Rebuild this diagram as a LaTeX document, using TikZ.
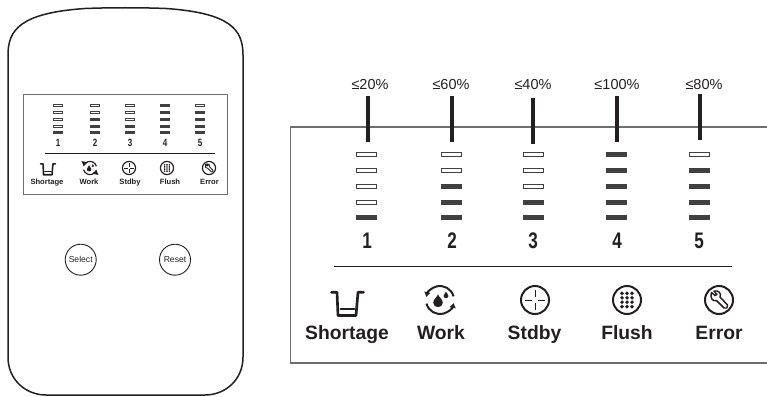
\documentclass[tikz,border=0pt]{standalone}
\usepackage{fontspec}
\setmainfont{Liberation Sans}
\usetikzlibrary{arrows.meta}
\definecolor{ink}{HTML}{231F20}
\definecolor{barfill}{HTML}{404040}
\definecolor{panelline}{HTML}{6E6E6E}
\newcommand{\fsz}[1]{\fontsize{#1}{#1}\selectfont}
\tikzset{
  x=1pt,y=-1pt,
  every node/.style={inner sep=0pt,outer sep=0pt,text=ink},
  ledon/.style={draw=barfill,fill=barfill,line width=.6pt,rectangle},
  ledoff/.style={draw=barfill,fill=white,line width=.6pt,rectangle},
  bigled/.style={minimum width=20pt,minimum height=4pt},
  smallled/.style={minimum width=9.5pt,minimum height=2pt},
  tickmark/.style={draw=ink,line width=4pt},
  pctlabel/.style={font=\fsz{14.5},anchor=base},
  bignum/.style={font=\fsz{22.5}\bfseries,anchor=base,xscale=.76},
  smallnum/.style={font=\fsz{10.5}\bfseries,anchor=base,xscale=.76},
  biglabel/.style={font=\fsz{19.3}\bfseries,anchor=base},
  smalllabel/.style={font=\fsz{7.6}\bfseries,anchor=base},
  btn/.style={circle,draw=ink,line width=.9pt,minimum size=31pt,font=\fsz{8.6}},
  bigicon/.style={scale=1,line width=2pt,draw=ink},
  smallicon/.style={scale=.47,line width=1.2pt,draw=ink},
  bucketicon/.pic={
    \draw[line width=1.15*\pgflinewidth,line cap=round,line join=round] (-16,-7.7) -- (-10.5,-7.7) -- (-9.5,15.5) -- (8.5,15.5) -- (10.5,-7.7) -- (16,-7.7);
    \draw[line cap=round] (-7,9.3) -- (7,9.3);
  },
  workicon/.pic={
    \draw[-{Latex[length=5pt,width=7pt]}] (165:14) arc[start angle=165,end angle=12,radius=14];
    \draw[-{Latex[length=5pt,width=7pt]}] (-15:14) arc[start angle=-15,end angle=-168,radius=14];
    \fill[ink] (-2,-6) .. controls (-2,-3.5) and (2.8,-1) .. (2.8,2.8) .. controls (2.8,8.5) and (-6.8,8.5) .. (-6.8,2.8) .. controls (-6.8,-1) and (-2,-3.5) .. (-2,-6) -- cycle;
    \fill[ink] (6,-8.5) .. controls (6,-7) and (8.4,-6) .. (8.4,-4) .. controls (8.4,-1.2) and (3.6,-1.2) .. (3.6,-4) .. controls (3.6,-6) and (6,-7) .. (6,-8.5) -- cycle;
  },
  stdbyicon/.pic={
    \draw (0,0) circle[radius=14];
    \draw[line width=.45pt] (0,-10) -- (0,-3) (0,3) -- (0,10) (-10,0) -- (-3,0) (3,0) -- (10,0);
  },
  flushicon/.pic={
    \draw (0,0) circle[radius=14];
    \foreach \yy in {-6.6,-2.2,2.2,6.6} \foreach \xx in {-5,0,5} \fill[ink] (\xx,\yy) circle[radius=1.95];
  },
  erroricon/.pic={
    \draw (0,0) circle[radius=14];
    \draw[line width=.85*\pgflinewidth,line join=round] (-7.5,-7.5) -- (-4,-4.5) -- (-2,-5.5) -- (-5,-9) .. controls (0,-10) and (2.5,-6.5) .. (1,-3) -- (8.5,5) .. controls (9.5,7.5) and (7,9.5) .. (5,8) -- (-2.5,0.5) .. controls (-6,2) and (-9.5,-2) .. (-7.5,-7.5) -- cycle;
  }
}
% name, x, number filled, size style, list of y
\newcommand{\ledcol}[5]{%
  \foreach \yy [count=\ii] in {#5} {%
    \ifnum\ii>\numexpr5-#3\relax\def\ledst{ledon}\else\def\ledst{ledoff}\fi
    \node[\ledst,#4] (#1\ii) at (#2,\yy) {};
  }%
}
\begin{document}
\begin{tikzpicture}
\useasboundingbox (0,0) rectangle (767,396);
% --- device body
\draw[ink,line width=1.5pt] (8,357) -- (8,55)
  .. controls (8,30) and (20,13) .. (85,8.5)
  .. controls (110,7.5) and (141,7.5) .. (166,8.5)
  .. controls (231,13) and (243,30) .. (243,55)
  -- (243,357)
  .. controls (243,380) and (225,395) .. (205,395)
  -- (46,395)
  .. controls (26,395) and (8,380) .. (8,357) -- cycle;
\draw[panelline,line width=1pt] (23.7,94) rectangle (227,194.5);
\foreach \nm/\xx/\fl in {a/58/1,b/95/3,c/130/2,d/165/5,e/200/4}
  \ledcol{s\nm}{\xx}{\fl}{smallled}{105.3,112.3,119.2,126.2,132.5};
\node[smallnum] (sn1) at (58,146) {1};
\node[smallnum] (sn2) at (95,146) {2};
\node[smallnum] (sn3) at (130,146) {3};
\node[smallnum] (sn4) at (165,146) {4};
\node[smallnum] (sn5) at (200,146) {5};
\coordinate (sdl) at (44.5,153);
\coordinate (sdr) at (214.5,153);
\draw[ink,line width=.8pt] (sdl) -- (sdr);
\pic[smallicon] at (48,167.5) {bucketicon};
\pic[smallicon] at (90,168) {workicon};
\pic[smallicon] at (129,168) {stdbyicon};
\pic[smallicon] at (167,168) {flushicon};
\pic[smallicon] at (209,168) {erroricon};
\node[smalllabel] (sl1) at (47,184) {Shortage};
\node[smalllabel] (sl2) at (89,184) {Work};
\node[smalllabel] (sl3) at (130,184) {Stdby};
\node[smalllabel] (sl4) at (170,184) {Flush};
\node[smalllabel] (sl5) at (209.5,184) {Error};
\node[btn] (select) at (80.7,259.7) {Select};
\node[btn] (reset) at (175,259.7) {Reset};
% --- enlarged panel
\draw[panelline,line width=1.3pt] (767,127) -- (290.5,127) -- (290.5,363) -- (767,363);
\foreach \nm/\xx/\fl in {a/366/1,b/451/3,c/533/2,d/616/5,e/699/4}
  \ledcol{b\nm}{\xx}{\fl}{bigled}{154.5,170.5,186.5,202.5,217};
\node[pctlabel] (p1) at (370,89) {≤20\%};
\node[pctlabel] (p2) at (451,89) {≤60\%};
\node[pctlabel] (p3) at (533,89) {≤40\%};
\node[pctlabel] (p4) at (617,89) {≤100\%};
\node[pctlabel] (p5) at (704,89) {≤80\%};
\coordinate (t1a) at (368,96);  \coordinate (t1b) at (368,142);
\coordinate (t2a) at (452,96);  \coordinate (t2b) at (452,142);
\coordinate (t3a) at (533,98);  \coordinate (t3b) at (533,144);
\coordinate (t4a) at (617,96);  \coordinate (t4b) at (617,142);
\coordinate (t5a) at (700,94);  \coordinate (t5b) at (700,140);
\foreach \i in {1,...,5} \draw[tickmark] (t\i a) -- (t\i b);
\node[bignum] (n1) at (367,248) {1};
\node[bignum] (n2) at (452,248) {2};
\node[bignum] (n3) at (533,248) {3};
\node[bignum] (n4) at (617,248) {4};
\node[bignum] (n5) at (699,248) {5};
\coordinate (dl) at (334,266);
\coordinate (dr) at (732,266);
\draw[ink,line width=.8pt] (dl) -- (dr);
\pic[bigicon] at (347.5,300) {bucketicon};
\pic[bigicon] at (440,300) {workicon};
\pic[bigicon] at (535,300) {stdbyicon};
\pic[bigicon] at (627,300) {flushicon};
\pic[bigicon] at (719,300) {erroricon};
\node[biglabel] (l1) at (347,339.5) {Shortage};
\node[biglabel] (l2) at (441,339.5) {Work};
\node[biglabel] (l3) at (534.5,339.5) {Stdby};
\node[biglabel] (l4) at (627,339.5) {Flush};
\node[biglabel] (l5) at (719,339.5) {Error};
\end{tikzpicture}
\end{document}
